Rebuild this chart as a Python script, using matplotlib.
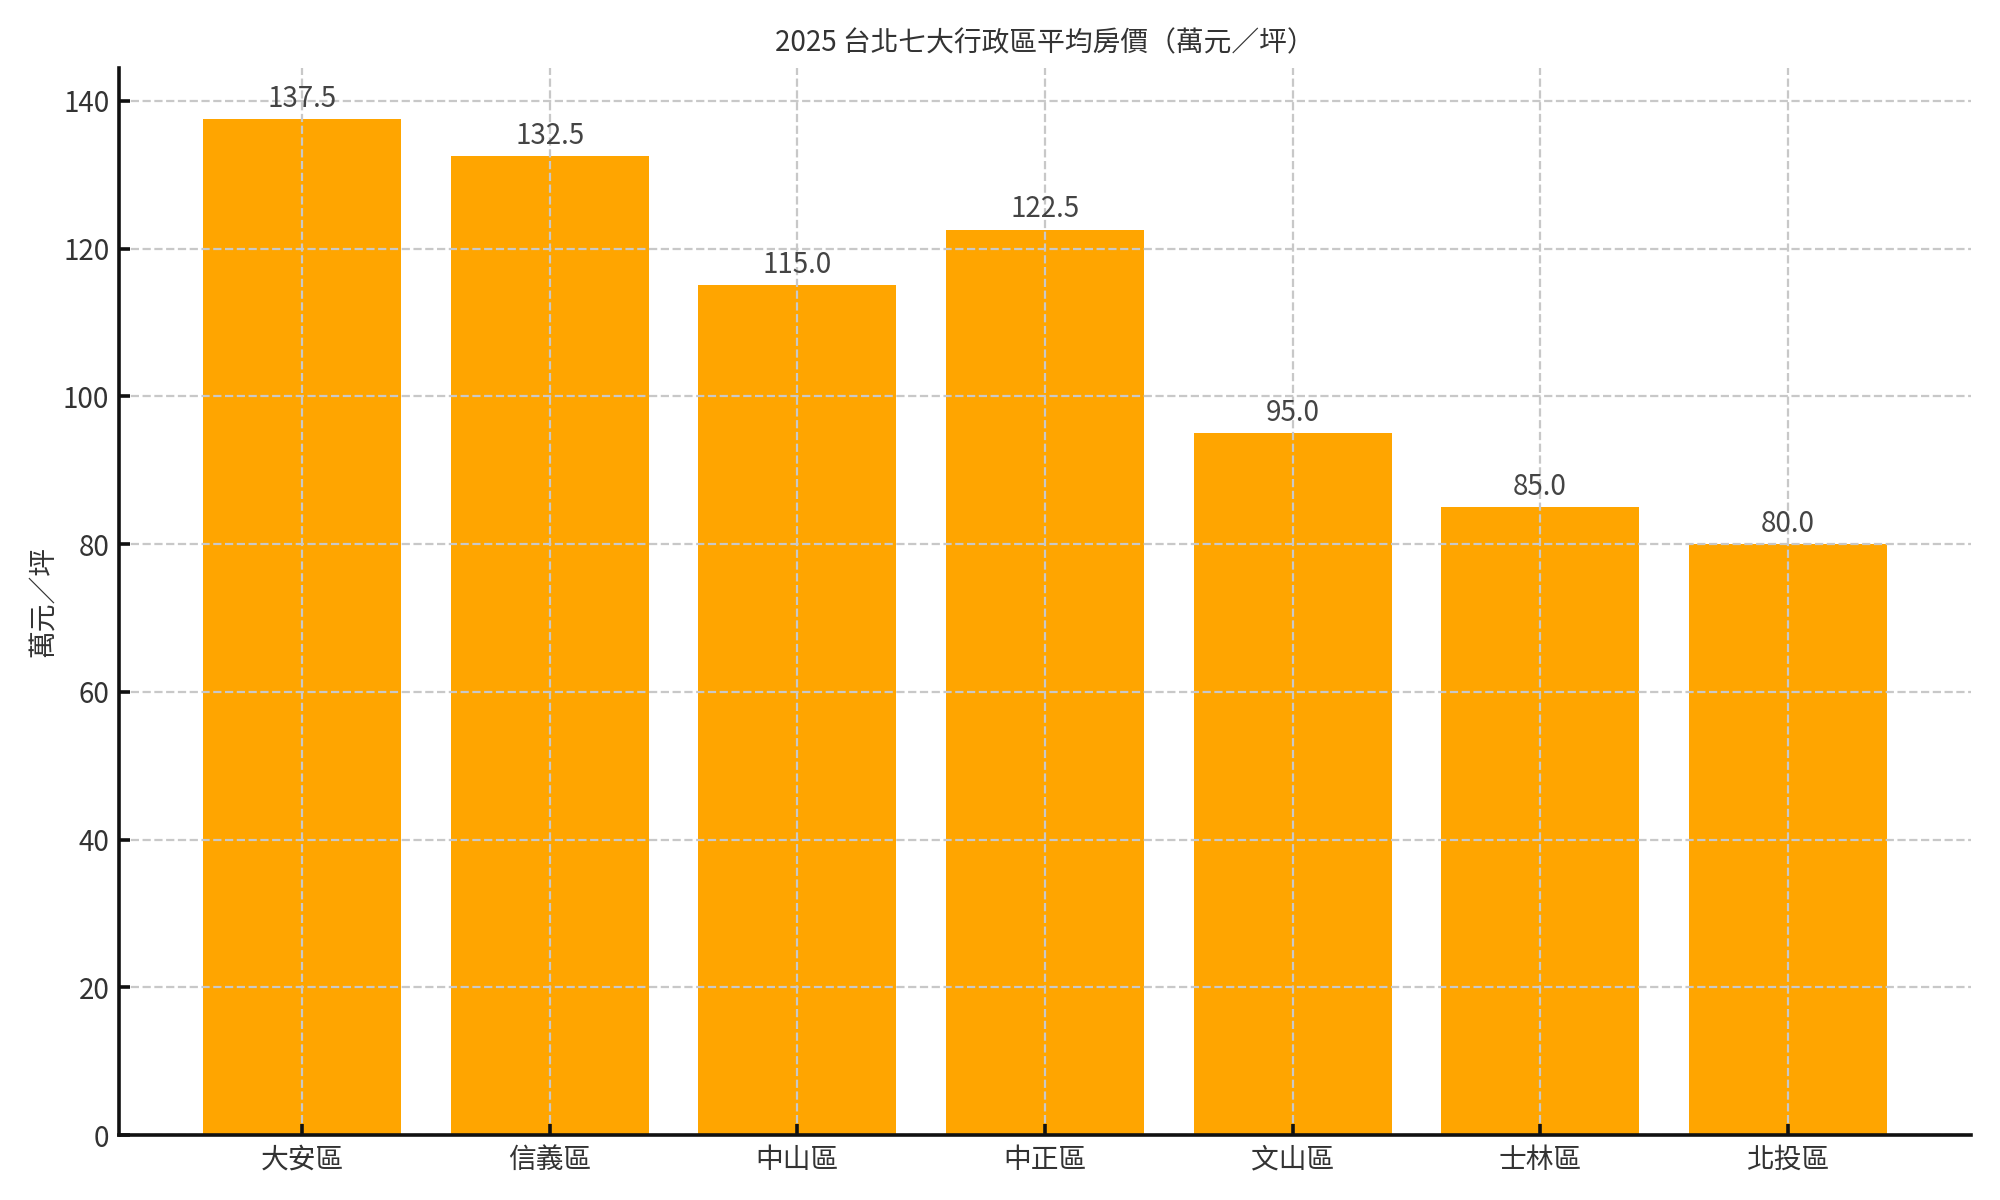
import matplotlib
matplotlib.use("Agg")
import matplotlib.pyplot as plt

plt.rcParams['font.family'] = ['Noto Sans CJK TC', 'DejaVu Sans']

districts = ["大安區", "信義區", "中山區", "中正區", "文山區", "士林區", "北投區"]
prices = [137.5, 132.5, 115.0, 122.5, 95.0, 85.0, 80.0]
title = "2025 台北七大行政區平均房價（萬元／坪）"
ylabel = "萬元／坪"

fig = plt.figure(figsize=(10, 6), dpi=200)
ax = fig.add_axes([0.0595, 0.054, 0.926, 0.889])

bars = ax.bar(districts, prices, color="#FFA500", width=0.8, zorder=1)
ax.bar_label(bars, labels=[f"{v:.1f}" for v in prices], padding=2,
             fontsize=10, color="#444444")

ax.set_title(title, fontsize=10, color="#333333", pad=6)
ax.set_ylabel(ylabel, fontsize=10, color="#333333")
ax.yaxis.set_label_coords(-0.033, 0.5)

ax.set_axisbelow(False)
ax.grid(True, linestyle="--", color="#c8c8c8", linewidth=0.8, zorder=2)

for s in ["top", "right"]:
    ax.spines[s].set_visible(False)
for s in ["left", "bottom"]:
    ax.spines[s].set_linewidth(1.3)
    ax.spines[s].set_color("#111111")
    ax.spines[s].set_zorder(5)

ax.tick_params(direction="in", length=4, width=1.3, colors="#111111",
               labelsize=10, labelcolor="#333333")

fig.savefig("out.png", dpi=200)
